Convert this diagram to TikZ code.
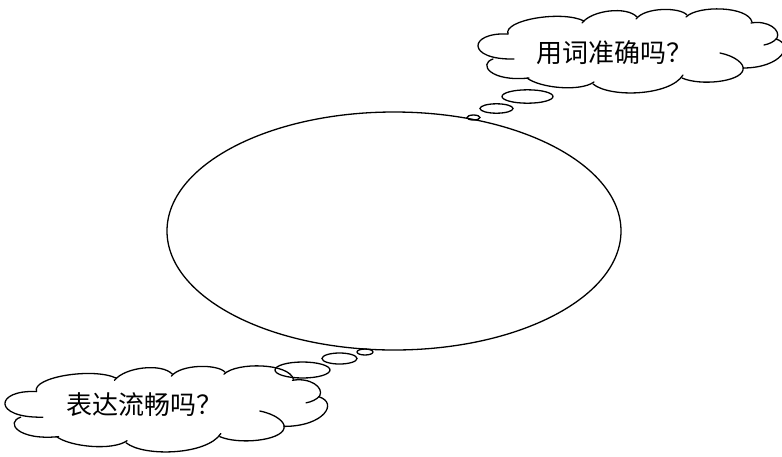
\documentclass[tikz,border=0pt]{standalone}
\usepackage{fontspec}
\newfontfamily\cjk{Noto Sans CJK SC}
\tikzset{
  outline/.style={line width=1.3pt, line cap=round},
  qtext/.style={font=\cjk\fontsize{26}{30}\selectfont, inner sep=0pt}
}
\newcommand\cloudarcs{%
  % left bump with inner tail
  \draw[outline] (508,34) .. controls (468,32) and (466,60) .. (514,59);
  % top bumps
  \draw[outline] (508,34) .. controls (503,20) and (562,10) .. (584,21);
  \draw[outline] (582,23) .. controls (592,10) and (627,6) .. (637,17);
  \draw[outline] (636,19) .. controls (645,7) and (680,7) .. (687,15);
  \draw[outline] (686,17) .. controls (698,5) and (748,6) .. (752,22);
  % top-right bump with inner tail
  \draw[outline] (751,23) .. controls (768,20) and (781,30) .. (777,38)
                 .. controls (774,42) and (769,44) .. (764,45);
  % right bump
  \draw[outline] (776,39) .. controls (795,45) and (781,68) .. (743,68);
  % bottom-right bump with inner tail
  \draw[outline] (720,53) .. controls (735,56) and (745,64) .. (743,70)
                 .. controls (740,82) and (700,86) .. (682,78);
  % bottom bumps
  \draw[outline] (683,75) .. controls (670,96) and (610,98) .. (593,84);
  \draw[outline] (594,82) .. controls (580,92) and (540,88) .. (527,78);
  % lower-left bump
  \draw[outline] (493,59) .. controls (478,64) and (490,82) .. (529,78);
}
\begin{document}
\begin{tikzpicture}[x=1pt, y=-1pt]
  \useasboundingbox (0,0) rectangle (782,456);
  % main thought ellipse
  \draw[outline] (394,231) ellipse [x radius=227pt, y radius=119pt];
  % top cloud
  \cloudarcs
  \node[qtext] (q1) at (614,53) {用词准确吗？};
  % top bubbles
  \draw[outline] (527.5,96.5) ellipse [x radius=25.5pt, y radius=6.7pt];
  \draw[outline] (496.5,108.5) ellipse [x radius=16.5pt, y radius=4.7pt];
  \draw[outline] (473.5,117.5) ellipse [x radius=6.5pt, y radius=2.5pt];
  % bottom cloud
  \begin{scope}[shift={(165-630*1.053,410-52*1.024)}, xscale=1.053, yscale=1.024]
    \cloudarcs
  \end{scope}
  \node[qtext] (q2) at (144,405) {表达流畅吗？};
  % bottom bubbles
  \draw[outline] (302.5,370) ellipse [x radius=27.5pt, y radius=8pt];
  \draw[outline] (339.5,358.5) ellipse [x radius=17.5pt, y radius=5.5pt];
  \draw[outline] (365,352) ellipse [x radius=8pt, y radius=3pt];
\end{tikzpicture}
\end{document}
